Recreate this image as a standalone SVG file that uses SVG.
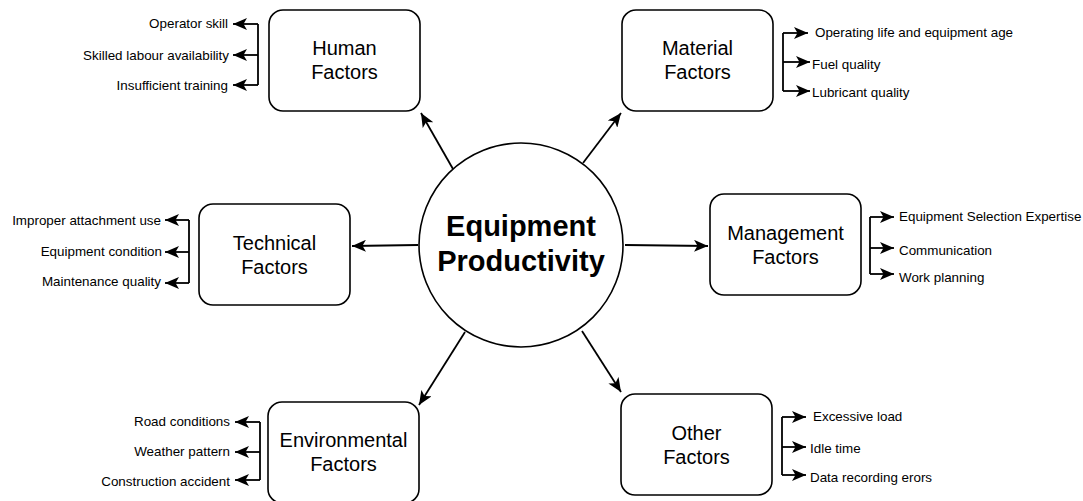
<svg xmlns="http://www.w3.org/2000/svg" width="1083" height="501" viewBox="0 0 1083 501">
  <style>
    .box { fill: #ffffff; stroke: #000000; stroke-width: 1.6; }
    .hub { fill: #ffffff; stroke: #000000; stroke-width: 1.6; }
    .lbl { font-family: "Liberation Sans", Arial, sans-serif; font-size: 20px; fill: #000000; text-anchor: middle; }
    .hubtxt { font-family: "Liberation Sans", Arial, sans-serif; font-size: 29px; font-weight: bold; fill: #000000; text-anchor: middle; }
    .item { font-family: "Liberation Sans", Arial, sans-serif; font-size: 13.4px; fill: #000000; }
    .left { text-anchor: end; }
    .edge { fill: none; stroke: #000000; stroke-width: 1.8; }
    .arr { marker-end: url(#head); }
  </style>
  <defs>
    <marker id="head" viewBox="0 0 14 12" refX="14" refY="6" markerWidth="14" markerHeight="12" markerUnits="userSpaceOnUse" orient="auto">
      <path d="M0,0 L14,6 L0,12 L3.5,6 Z" fill="#000000"/>
    </marker>
  </defs>
  <rect width="1083" height="501" fill="#ffffff"/>

  <!-- connectors -->
  <g id="connectors">
    <!-- hub to factor boxes -->
    <path class="edge arr" d="M453,169 L421,113"/>
    <path class="edge arr" d="M583,163 L621,113"/>
    <path class="edge arr" d="M418,245 L352,246"/>
    <path class="edge arr" d="M625,245 L708,246"/>
    <path class="edge arr" d="M465,332 L419,405"/>
    <path class="edge arr" d="M582,331 L621,392"/>

    <!-- Human factors bracket -->
    <path class="edge" d="M258,24 V85"/>
    <path class="edge arr" d="M258,24 H233"/>
    <path class="edge arr" d="M258,55 H233"/>
    <path class="edge arr" d="M258,85 H233"/>

    <!-- Material factors bracket -->
    <path class="edge" d="M783,33 V91"/>
    <path class="edge arr" d="M783,33 H808"/>
    <path class="edge arr" d="M783,62 H810"/>
    <path class="edge arr" d="M783,91 H810"/>

    <!-- Technical factors bracket -->
    <path class="edge" d="M189,220 V283"/>
    <path class="edge arr" d="M189,220 H165"/>
    <path class="edge arr" d="M189,252 H165"/>
    <path class="edge arr" d="M189,283 H165"/>

    <!-- Management factors bracket -->
    <path class="edge" d="M870,217 V274"/>
    <path class="edge arr" d="M870,217 H894"/>
    <path class="edge arr" d="M870,248 H894"/>
    <path class="edge arr" d="M870,274 H894"/>

    <!-- Environmental factors bracket -->
    <path class="edge" d="M260,422 V480"/>
    <path class="edge arr" d="M260,422 H235"/>
    <path class="edge arr" d="M260,452 H235"/>
    <path class="edge arr" d="M260,480 H235"/>

    <!-- Other factors bracket -->
    <path class="edge" d="M782,417 V475"/>
    <path class="edge arr" d="M782,417 H806"/>
    <path class="edge arr" d="M782,447 H806"/>
    <path class="edge arr" d="M782,475 H806"/>
  </g>

  <!-- central hub -->
  <g id="hub">
    <circle class="hub" cx="521" cy="245" r="102"/>
    <text class="hubtxt" x="521" y="236">Equipment</text>
    <text class="hubtxt" x="521" y="271">Productivity</text>
  </g>

  <g id="human">
    <rect class="box" x="269" y="10" width="151" height="101" rx="14"/>
    <text class="lbl" x="344.5" y="55">Human</text>
    <text class="lbl" x="344.5" y="79">Factors</text>
    <text class="item left" x="228" y="28">Operator skill</text>
    <text class="item left" x="229" y="59.5">Skilled labour availability</text>
    <text class="item left" x="228" y="89.5">Insufficient training</text>
  </g>

  <g id="material">
    <rect class="box" x="622" y="10" width="151" height="101" rx="14"/>
    <text class="lbl" x="697.5" y="55">Material</text>
    <text class="lbl" x="697.5" y="79">Factors</text>
    <text class="item" x="815" y="36.5">Operating life and equipment age</text>
    <text class="item" x="812" y="68.5">Fuel quality</text>
    <text class="item" x="812" y="96.5">Lubricant quality</text>
  </g>

  <g id="technical">
    <rect class="box" x="199" y="204" width="151" height="101" rx="14"/>
    <text class="lbl" x="274.5" y="250">Technical</text>
    <text class="lbl" x="274.5" y="274">Factors</text>
    <text class="item left" x="161" y="224.5">Improper attachment use</text>
    <text class="item left" x="162" y="255.5">Equipment condition</text>
    <text class="item left" x="161" y="285.5">Maintenance quality</text>
  </g>

  <g id="management">
    <rect class="box" x="710" y="194" width="151" height="101" rx="14"/>
    <text class="lbl" x="785.5" y="240">Management</text>
    <text class="lbl" x="785.5" y="264">Factors</text>
    <text class="item" x="899" y="220.5">Equipment Selection Expertise</text>
    <text class="item" x="899" y="254.5">Communication</text>
    <text class="item" x="899" y="281.5">Work planning</text>
  </g>

  <g id="environmental">
    <rect class="box" x="268" y="402" width="151" height="101" rx="14"/>
    <text class="lbl" x="343.5" y="447">Environmental</text>
    <text class="lbl" x="343.5" y="471">Factors</text>
    <text class="item left" x="230" y="425.5">Road conditions</text>
    <text class="item left" x="230" y="455.5">Weather pattern</text>
    <text class="item left" x="230" y="485.5">Construction accident</text>
  </g>

  <g id="other">
    <rect class="box" x="621" y="394" width="151" height="101" rx="14"/>
    <text class="lbl" x="696.5" y="440">Other</text>
    <text class="lbl" x="696.5" y="464">Factors</text>
    <text class="item" x="813" y="420.5">Excessive load</text>
    <text class="item" x="810" y="452.5">Idle time</text>
    <text class="item" x="810" y="481.5">Data recording erors</text>
  </g>
</svg>
